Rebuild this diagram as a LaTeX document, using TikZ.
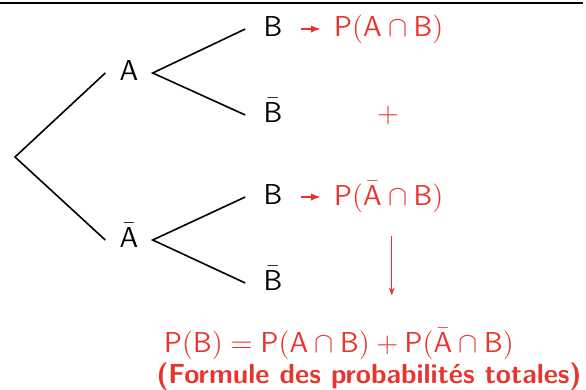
\documentclass[tikz,border=0pt]{standalone}
\usepackage{amsmath,amssymb}
\usepackage{tikz}
\usetikzlibrary{arrows.meta, positioning}
\definecolor{probared}{RGB}{232, 52, 44}
\renewcommand{\familydefault}{\sfdefault}
\newcommand{\sA}{\mathsf{A}}
\newcommand{\sB}{\mathsf{B}}

\begin{document}
\begin{tikzpicture}[x=0.5pt, y=-0.5pt,
    event/.style={inner xsep=7pt, inner ysep=0pt, text height=1.6ex, text depth=0pt, font=\fontsize{13.8}{16}\selectfont},
    leaf/.style={event, inner xsep=9pt},
    proba/.style={inner xsep=6.5pt, text=probared, font=\fontsize{13.8}{16}\selectfont},
    branch/.style={line width=0.8pt, black},
    arrow/.style={-{Latex[length=5pt, width=3.8pt]}, line width=0.8pt, probared},
    thinarrow/.style={-{Stealth[length=4pt, width=3pt]}, line width=0.5pt, probared}
]
\useasboundingbox (0,0) rectangle (586,390);
\draw[line width=0.7pt] (0,3) -- (583,3);

% tree
\coordinate (root) at (15,157);
\node (A)    [event] at (129,73)  {$\sA$};
\node (Abar) [event] at (129,240) {$\bar{\sA}$};
\node (B1)    [leaf] at (273,29)  {$\sB$};
\node (B1bar) [leaf] at (273,115) {$\bar{\sB}$};
\node (B2)    [leaf] at (273,197) {$\sB$};
\node (B2bar) [leaf] at (273,283) {$\bar{\sB}$};

\draw [branch] (A.west) -- (root) -- (Abar.west);
\draw [branch] (B1.west) -- (A.east) -- (B1bar.west);
\draw [branch] (B2.west) -- (Abar.east) -- (B2bar.west);

% probabilities
\node (P1) [proba, right=10pt of B1] {$\mathsf{P}(\sA\cap\sB)$};
\node (P2) [proba, right=10pt of B2] {$\mathsf{P}(\bar{\sA}\cap\sB)$};
\node (plus) [proba] at (388,115) {$+$};

\draw [arrow] (B1.east) -- (P1.west);
\draw [arrow] (B2.east) -- (P2.west);

\node (total) [proba] at (339,344) {$\mathsf{P}(\sB)=\mathsf{P}(\sA\cap\sB)+\mathsf{P}(\bar{\sA}\cap\sB)$};
\node (name)  [proba] at (369,377) {\textbf{(Formule des probabilités totales)}};

\draw [thinarrow, shorten <=8pt, shorten >=13pt] ([xshift=1.5pt]P2.south) -- ([xshift=1.5pt]P2.south |- total.north);

\end{tikzpicture}
\end{document}
